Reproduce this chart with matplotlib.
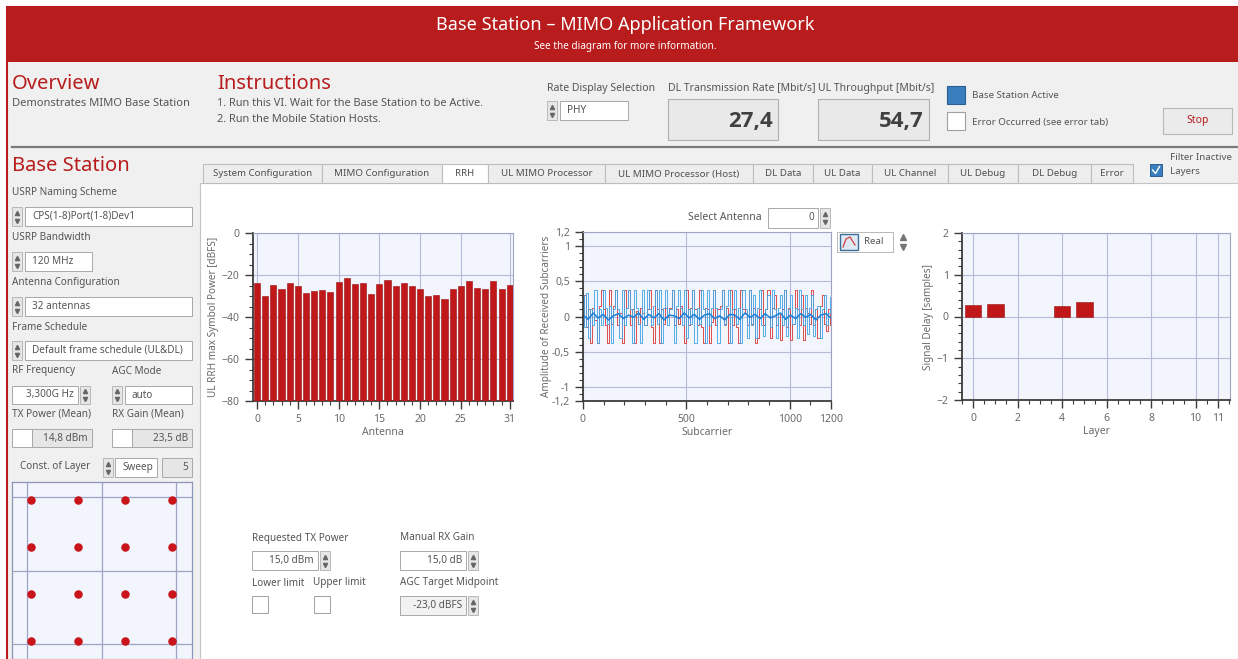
import numpy as np
import matplotlib
matplotlib.use("Agg")
import matplotlib.pyplot as plt
from matplotlib.patches import Rectangle

plt.rcParams['font.family'] = ['Noto Sans', 'DejaVu Sans']

W, H = 1238, 659
RED = '#b81c1c'

# data
antenna = list(range(32))
rrh_power = [-23.7, -29.9, -24.6, -26.7, -23.7, -25.1, -28.5, -27.8, -27.2, -28.2,
             -23.2, -21.6, -24.3, -24.0, -29.1, -24.5, -22.6, -25.4, -24.0, -25.3,
             -26.9, -29.8, -29.3, -31.5, -26.9, -25.1, -22.9, -26.2, -26.6, -22.7,
             -26.9, -24.8]
ant_ticks = [0, 5, 10, 15, 20, 25, 31]

sig_red = [-0.12, 0.3, -0.15, 0.1, -0.37, 0.12, -0.05, -0.37, 0.15, 0.37,
           0.1, -0.12, -0.37, 0.37, -0.1, 0.15, 0.37, -0.12, 0.05, -0.37,
           0.37, 0.12, 0.37, -0.12, 0.1, -0.37, 0.08, -0.1, 0.12, 0.05,
           -0.12, 0.1, 0.37, -0.15, -0.37, 0.37, 0.1, -0.37, 0.1, -0.1,
           0.12, 0.0, 0.12, 0.37, -0.12, 0.1, -0.1, 0.15, 0.03, -0.37,
           0.37, -0.12, 0.12, 0.37, 0.1, -0.12, 0.37, -0.15, -0.37, 0.12,
           0.1, -0.37, -0.08, 0.37, -0.12, 0.1, 0.15, 0.37, -0.1, 0.12,
           -0.37, 0.37, -0.12, 0.1, -0.15, -0.37, 0.37, 0.1, 0.05, -0.12,
           0.37, -0.1, 0.12, -0.37, -0.3, 0.1, 0.37, -0.12, 0.1, 0.37,
           -0.3, 0.12, 0.3, -0.12, 0.05, -0.33, 0.1, 0.37, -0.15, 0.12,
           -0.33, -0.1, 0.37, 0.1, -0.12, 0.3, -0.33, 0.12, 0.05, -0.1,
           0.37, -0.12, 0.1, -0.3, 0.15, 0.3, -0.1, -0.2, 0.1, -0.12]
sig_blue = [0.3, -0.15, 0.33, -0.3, 0.1, -0.12, 0.37, -0.37, 0.1, -0.12,
            0.37, 0.12, -0.1, 0.15, -0.37, 0.1, 0.37, 0.1, -0.3, 0.37,
            -0.12, 0.12, 0.37, 0.1, -0.37, 0.37, 0.12, -0.1, -0.37, 0.37,
            -0.12, 0.37, 0.1, -0.12, 0.15, 0.37, -0.1, 0.37, -0.37, 0.12,
            0.37, -0.12, 0.1, 0.37, -0.37, 0.15, 0.37, 0.12, -0.12, 0.37,
            -0.3, 0.1, -0.1, 0.37, -0.37, 0.12, -0.1, 0.37, 0.1, -0.37,
            0.37, -0.12, 0.12, 0.37, 0.12, -0.37, 0.1, 0.37, -0.12, 0.15,
            0.37, -0.37, 0.1, 0.37, -0.1, 0.12, -0.37, 0.37, 0.1, -0.3,
            0.37, -0.12, 0.3, -0.3, 0.12, 0.37, -0.12, -0.28, 0.1, 0.3,
            -0.15, 0.37, 0.1, -0.3, 0.12, 0.3, -0.12, 0.37, -0.28, 0.1,
            0.3, -0.1, 0.12, -0.3, 0.37, 0.1, -0.12, 0.3, -0.25, 0.12,
            0.3, -0.28, 0.1, 0.15, -0.3, 0.1, 0.3, -0.12, 0.05, 0.28]
sig_center = [0.02, -0.04, 0.05, -0.02, 0.03, -0.05, 0.01, 0.04, -0.03, 0.02,
              -0.01, 0.05, -0.04, 0.03, -0.02, 0.04, -0.05, 0.02, 0.01, -0.03,
              0.05, -0.02, 0.03, -0.04, 0.02, 0.04, -0.03, 0.01, -0.05, 0.03,
              0.02, -0.04, 0.05, -0.01, 0.03, -0.03, 0.04, -0.02, 0.01, 0.05,
              -0.04, 0.02, -0.03, 0.04, -0.01, 0.03, -0.05, 0.02, 0.04, -0.02]
amp_ticks = [-1.2, -1, -0.5, 0, 0.5, 1, 1.2]
amp_labels = ['-1,2', '-1', '-0,5', '0', '0,5', '1', '1,2']

layers = [0, 1, 4, 5]
delays = [0.28, 0.30, 0.26, 0.34]
layer_ticks = [0, 2, 4, 6, 8, 10, 11]

const_i = [-1.5, -0.5, 0.5, 1.5, -1.5, -0.5, 0.5, 1.5,
           -1.5, -0.5, 0.5, 1.5, -1.5, -0.5, 0.5, 1.5]
const_q = [1.5, 1.5, 1.5, 1.5, 0.5, 0.5, 0.5, 0.5,
           -0.5, -0.5, -0.5, -0.5, -1.5, -1.5, -1.5, -1.5]

tab_names = ['System Configuration', 'MIMO Configuration', 'RRH', 'UL MIMO Processor',
             'UL MIMO Processor (Host)', 'DL Data', 'UL Data', 'UL Channel',
             'UL Debug', 'DL Debug', 'Error']
tab_edges = [203, 322, 442, 488, 605, 753, 813, 872, 948, 1018, 1091, 1133]

fig = plt.figure(figsize=(W / 100, H / 100), dpi=100)
fig.patch.set_facecolor('white')
bg = fig.add_axes([0, 0, 1, 1])
bg.set_xlim(0, W)
bg.set_ylim(H, 0)
bg.axis('off')


def box(x0, y0, x1, y1, fc, ec='none', lw=0.8, z=1):
    bg.add_patch(Rectangle((x0, y0), x1 - x0, y1 - y0, facecolor=fc,
                           edgecolor=ec, lw=lw, zorder=z))


def txt(x, y, s, size=7.5, color='#555555', ha='left', va='center', **kw):
    bg.text(x, y, s, fontsize=size, color=color, ha=ha, va=va, zorder=5, **kw)


def spin(x, y0, y1):
    box(x, y0, x + 10, y1, '#e6e6e6', '#b0b0b0', 0.6, 3)
    h = y1 - y0
    bg.plot(x + 5, y0 + 0.3 * h, marker='^', ms=3, color='#666666', zorder=4)
    bg.plot(x + 5, y0 + 0.72 * h, marker='v', ms=3, color='#666666', zorder=4)


def field(x0, y0, x1, y1, s='', fc='white', ha='left'):
    box(x0, y0, x1, y1, fc, '#a8a8a8', 0.7, 3)
    if ha == 'left':
        txt(x0 + 7, (y0 + y1) / 2, s, 7.2)
    else:
        txt(x1 - 4, (y0 + y1) / 2, s, 7.2, ha='right')


def px_axes(x0, y0, x1, y1):
    return fig.add_axes([x0 / W, 1 - y1 / H, (x1 - x0) / W, (y1 - y0) / H])


def style(ax):
    ax.set_facecolor('#f2f5fb')
    for s in ['top', 'right']:
        ax.spines[s].set_color('#9ea4c4')
        ax.spines[s].set_linewidth(0.8)
    for s in ['left', 'bottom']:
        ax.spines[s].set_color('#3c3c3c')
        ax.spines[s].set_linewidth(1.3)
    ax.tick_params(colors='#3c3c3c', labelcolor='#6a6a6a', labelsize=7.5,
                   length=6, width=1)
    ax.tick_params(which='minor', length=3, width=0.8, colors='#3c3c3c')
    ax.grid(True, color='#b6bbdc', lw=0.8)
    ax.set_axisbelow(True)


# frame, title bar, header
box(7, 7, W + 5, H + 5, '#f0f0f0', RED, 1.5, 0)
box(7, 7, W + 5, 62, RED, z=1)
txt(625, 25, 'Base Station – MIMO Application Framework', 13, 'white', ha='center')
txt(625, 47, 'See the diagram for more information.', 7.2, 'white', ha='center')
bg.plot([12, W], [147, 147], color='#7a7a7a', lw=1.6, zorder=2)

txt(12, 84, 'Overview', 14.5, RED)
txt(12, 104, 'Demonstrates MIMO Base Station', 8)
txt(217, 84, 'Instructions', 14.5, RED)
txt(217, 103, '1. Run this VI. Wait for the Base Station to be Active.', 7.9)
txt(217, 120, '2. Run the Mobile Station Hosts.', 7.9)

txt(547, 88, 'Rate Display Selection', 7.5)
spin(547, 101, 120)
field(560, 101, 628, 120, 'PHY')
txt(668, 88, 'DL Transmission Rate [Mbit/s]', 7.5)
box(668, 99, 778, 140, '#e9e9e9', '#b0b0b0', 0.8, 3)
txt(773, 122, '27,4', 16, '#404040', ha='right', fontweight='bold',
    family=['Open Sans', 'DejaVu Sans'])
txt(818, 88, 'UL Throughput [Mbit/s]', 7.5)
box(818, 99, 929, 140, '#e9e9e9', '#b0b0b0', 0.8, 3)
txt(924, 122, '54,7', 16, '#404040', ha='right', fontweight='bold',
    family=['Open Sans', 'DejaVu Sans'])
box(947, 86, 965, 104, '#3a7ebf', '#2b5f90', 0.8, 3)
txt(972, 96, 'Base Station Active', 7)
box(947, 112, 965, 130, 'white', '#a0a0a0', 0.8, 3)
txt(972, 122, 'Error Occurred (see error tab)', 7)
box(1163, 108, 1232, 134, '#ebebeb', '#b8b8b8', 0.8, 3)
txt(1197.5, 121, 'Stop', 7.5, RED, ha='center')

# tabs
box(200, 183, W, H + 5, 'white', '#c4c4c4', 0.8, 1)
for name, a, b in zip(tab_names, tab_edges[:-1], tab_edges[1:]):
    box(a, 164, b, 183, 'white' if name == 'RRH' else '#ededed', '#bdbdbd', 0.8, 2)
    txt((a + b) / 2, 174, name, 7, '#505050', ha='center')
box(1150, 164, 1162, 176, '#3a7ebf', '#2b5f90', 0.7, 3)
bg.plot([1152.5, 1155.5, 1159.5], [170, 173.5, 166.5], color='white', lw=1, zorder=4)
txt(1170, 158, 'Filter Inactive', 7)
txt(1170, 172, 'Layers', 7)

# left panel
txt(12, 166, 'Base Station', 14.5, RED)
txt(12, 192, 'USRP Naming Scheme', 7.2)
spin(12, 207, 226)
field(25, 207, 192, 226, 'CPS(1-8)Port(1-8)Dev1')
txt(12, 238, 'USRP Bandwidth', 7.2)
spin(12, 252, 271)
field(25, 252, 92, 271, '120 MHz')
txt(12, 283, 'Antenna Configuration', 7.2)
spin(12, 297, 316)
field(25, 297, 192, 316, '32 antennas')
txt(12, 327, 'Frame Schedule', 7.2)
spin(12, 341, 360)
field(25, 341, 192, 360, 'Default frame schedule (UL&DL)')
txt(12, 371, 'RF Frequency', 7.2)
txt(112, 371, 'AGC Mode', 7.2)
field(12, 386, 78, 404, '3,300G Hz', ha='right')
spin(80, 386, 404)
spin(112, 386, 404)
field(125, 386, 192, 404, 'auto')
txt(12, 414, 'TX Power (Mean)', 7.2)
txt(112, 414, 'RX Gain (Mean)', 7.2)
box(12, 429, 32, 447, 'white', '#a8a8a8', 0.7, 3)
field(32, 429, 92, 447, '14,8 dBm', fc='#e6e6e6', ha='right')
box(112, 429, 132, 447, 'white', '#a8a8a8', 0.7, 3)
field(132, 429, 192, 447, '23,5 dB', fc='#e6e6e6', ha='right')
txt(20, 467, 'Const. of Layer', 7.2)
spin(103, 458, 477)
field(115, 458, 157, 477, 'Sweep')
field(162, 458, 192, 477, '5', fc='#e6e6e6', ha='right')

# bottom controls in the tab
txt(252, 538, 'Requested TX Power', 7.2)
field(252, 551, 318, 570, '15,0 dBm', ha='right')
spin(320, 551, 570)
txt(252, 583, 'Lower limit', 7.2)
txt(313, 583, 'Upper limit', 7.2)
box(252, 596, 268, 613, 'white', '#a0a0a0', 0.7, 3)
box(314, 596, 330, 613, 'white', '#a0a0a0', 0.7, 3)
txt(400, 538, 'Manual RX Gain', 7.2)
field(400, 551, 466, 570, '15,0 dB', ha='right')
spin(468, 551, 570)
txt(400, 583, 'AGC Target Midpoint', 7.2)
field(400, 596, 466, 615, '-23,0 dBFS', fc='#f2f2f2', ha='right')
spin(468, 596, 615)

# controls around the subcarrier graph
txt(762, 218, 'Select Antenna', 7.5, ha='right')
field(768, 208, 818, 228, '0', ha='right')
spin(820, 208, 228)
box(837, 232, 893, 252, 'white', '#b8b8b8', 0.7, 3)
box(840, 234, 858, 250, '#dfe9f3', '#3a6f9a', 1.0, 4)
bg.plot([843, 846, 850, 855], [247, 239, 237, 245], color='#d04040', lw=0.9, zorder=5)
txt(864, 242, 'Real', 7)
bg.plot(903, 237, marker='^', ms=4, color='#777777', zorder=4)
bg.plot(903, 247, marker='v', ms=4, color='#777777', zorder=4)

# RRH power bar chart
ax1 = px_axes(253, 233, 513, 401)
style(ax1)
ax1.bar(antenna, np.array(rrh_power) + 80, bottom=-80, width=0.75,
        color='#c01818', edgecolor='#9a1010', lw=0.4, zorder=3)
ax1.set_xlim(-0.5, 31.4)
ax1.set_ylim(-80, 0)
ax1.set_xticks(ant_ticks)
ax1.set_xticks(antenna, minor=True)
ax1.set_yticks([-80, -60, -40, -20, 0])
ax1.set_yticks(np.arange(-80, 1, 5), minor=True)
ax1.set_xlabel('Antenna', fontsize=7.5, color='#6a6a6a', labelpad=1)
ax1.set_ylabel('UL RRH max Symbol Power [dBFS]', fontsize=7.2, color='#6a6a6a', labelpad=2)

# received subcarrier amplitude
ax2 = px_axes(583, 232, 831, 401)
style(ax2)
ax2.plot(np.linspace(0, 1200, len(sig_red)), sig_red, drawstyle='steps-mid',
         color='#d83030', lw=0.7, alpha=0.85)
ax2.plot(np.linspace(0, 1200, len(sig_blue)), sig_blue, drawstyle='steps-mid',
         color='#44a6e6', lw=0.7, alpha=0.9)
ax2.plot(np.linspace(0, 1200, len(sig_center)), sig_center,
         color='#1c7fd8', lw=1.1)
ax2.set_xlim(0, 1200)
ax2.set_ylim(-1.2, 1.2)
ax2.set_yticks(amp_ticks)
ax2.set_yticklabels(amp_labels)
ax2.set_yticks(np.arange(-1.2, 1.21, 0.1), minor=True)
ax2.set_xticks([0, 500, 1000, 1200])
ax2.set_xticks(np.arange(0, 1201, 100), minor=True)
ax2.set_xlabel('Subcarrier', fontsize=7.5, color='#6a6a6a', labelpad=1)
ax2.set_ylabel('Amplitude of Received Subcarriers', fontsize=7.2, color='#6a6a6a', labelpad=0)

# signal delay per layer
ax3 = px_axes(962, 233, 1230, 400)
style(ax3)
ax3.bar(layers, delays, width=0.75, color='#c01818', edgecolor='#9a1010',
        lw=0.4, zorder=3)
ax3.set_xlim(-0.5, 11.55)
ax3.set_ylim(-2, 2)
ax3.set_xticks(layer_ticks)
ax3.set_xticks(np.arange(-0.5, 11.6, 0.5), minor=True)
ax3.set_yticks([-2, -1, 0, 1, 2])
ax3.set_yticks(np.arange(-2, 2.01, 0.2), minor=True)
ax3.set_xlabel('Layer', fontsize=7.5, color='#6a6a6a', labelpad=1)
ax3.set_ylabel('Signal Delay [samples]', fontsize=7.2, color='#6a6a6a', labelpad=2)

# constellation of layer
ax4 = px_axes(12, 482, 192, 659)
ax4.set_facecolor('#f2f5fb')
for s in ax4.spines.values():
    s.set_color('#8e94b8')
    s.set_linewidth(0.9)
ax4.scatter(const_i, const_q, s=26, color='#c8141a', zorder=3)
ax4.set_xlim(-1.91, 1.92)
ax4.set_ylim(-1.88, 1.89)
ax4.set_xticks([-1.59, 0, 1.59])
ax4.set_yticks([-1.57, 0, 1.57])
ax4.tick_params(length=0, labelbottom=False, labelleft=False)
ax4.grid(True, color='#9ea4c8', lw=0.9)
ax4.set_axisbelow(True)

fig.savefig('out.png', dpi=100, facecolor=fig.get_facecolor())
